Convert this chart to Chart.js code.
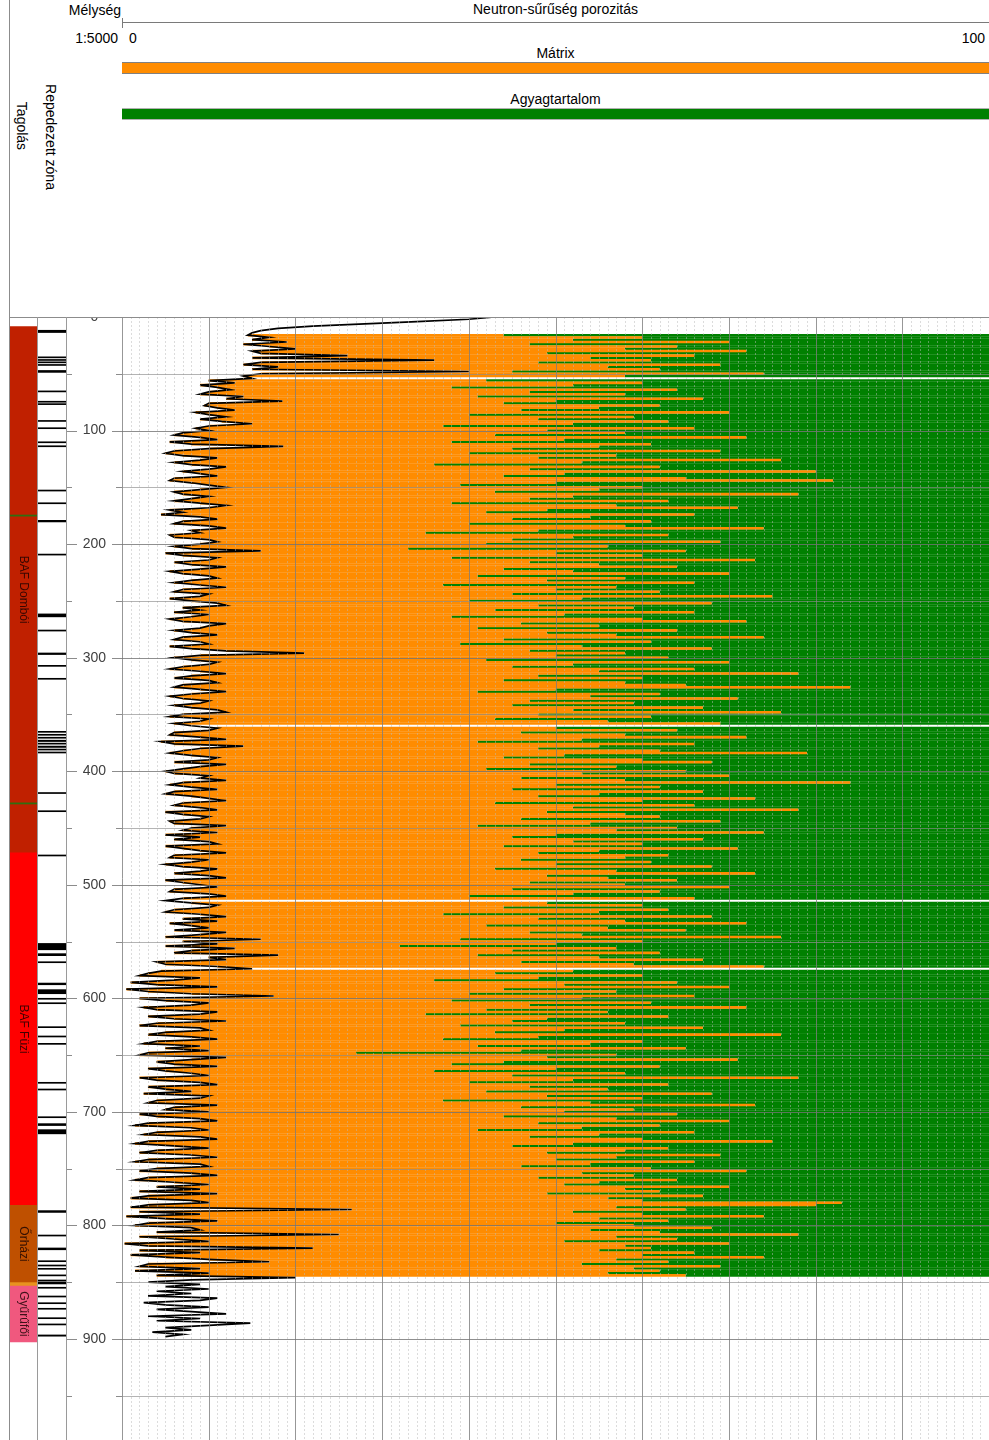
<!DOCTYPE html>
<html><head><meta charset="utf-8">
<script src="https://cdn.jsdelivr.net/npm/chart.js@4.4.1/dist/chart.umd.min.js"></script>
<style>
html,body{margin:0;padding:0;background:#fff;}
#wrap{position:relative;width:989px;height:1440px;overflow:hidden;font-family:"Liberation Sans",Arial,sans-serif;color:#000;}
.t{position:absolute;font-size:14px;line-height:14px;white-space:nowrap;}
.c{left:122px;width:867px;text-align:center;}
.ln{position:absolute;background:#8c8c8c;z-index:3;}
canvas{position:absolute;}
.rot{position:absolute;font-size:14px;line-height:14px;white-space:nowrap;transform:translate(-50%,-50%) rotate(90deg);}
</style></head><body>
<div id="wrap">
  <div class="t" style="right:868px;top:3px">Mélység</div>
  <div class="t" style="right:871px;top:31px">1:5000</div>
  <div class="t c" style="top:2px">Neutron-sűrűség porozitás</div>
  <div class="ln" style="left:122px;top:22px;width:867px;height:1px;background:#7a7a7a"></div>
  <div class="ln" style="left:122px;top:18px;width:1px;height:10px;background:#7a7a7a"></div>
  <div class="t" style="left:129px;top:31px">0</div>
  <div class="t" style="right:4px;top:31px">100</div>
  <div class="t c" style="top:46px">Mátrix</div>
  <div style="position:absolute;left:122px;top:62px;width:867px;height:10px;background:#FF8C00;border-top:1px solid #808080;border-bottom:1px solid #808080"></div>
  <div class="t c" style="top:92px">Agyagtartalom</div>
  <div style="position:absolute;left:122px;top:108px;width:867px;height:10px;background:#008000;border-top:1px solid #b0b0b0;border-bottom:1px solid #b0b0b0"></div>
  <div class="rot" style="left:22px;top:126px">Tagolás</div>
  <div class="rot" style="left:51px;top:137px">Repedezett zóna</div>

  <div class="ln" style="left:9px;top:0;width:1px;height:1440px"></div>
  <div class="ln" style="left:9px;top:317px;width:980px;height:1px"></div>
  <div class="ln" style="left:37px;top:317px;width:1px;height:1123px;background:#9a9a9a"></div>
  <div class="ln" style="left:66px;top:317px;width:1px;height:1123px;background:#9a9a9a"></div>

  <canvas id="units" width="27" height="1123" style="left:10px;top:318px"></canvas>
  <canvas id="frac" width="28" height="1123" style="left:38px;top:318px"></canvas>
  <canvas id="main" width="923" height="1123" style="left:66px;top:317px"></canvas>
</div>
<script>
// ---------------- DATA ----------------
const SAMPLE_STEP = 2; // metres between samples
// Neutron-density porosity (%), depth 0..898 m every 2 m
const phi = [
 43,40,34,28,22,18,16,15,14.5,17,
 15,19,14,17,20,15,16,26,15,36,
 16,14,18,15,40,16,14,15,10,13,
 9,11,12.5,10,9,14,12,18.5,10,9.5,
 11,13,8.5,10,12,9,11.5,15,10,8.5,
 10,7,6,9,11,5.5,8,18.6,10,6,
 5,7,11,9,6,8,12,10,7,9,
 11,6,5.5,8,10,12,9,6,7,10,
 8,6,9,12,10,5.5,7,4.5,9,11,
 7,6,10,12,8,9,5.5,6,10,11,
 9,6,8,16,5,7,11,10,6,8,
 12,9,5.5,7,10,11,8,6,9,12,
 7,6,10,9,5.5,8,11,12,7,9,
 6,10,8,5.5,7,12,10,9,6,8,
 11,7,6,9,10,5.5,8,12,21,9,
 6,8,11,10,7,5.5,9,12,8,6,
 10,11,7,6,9,12,8,5.5,7,10,
 9,6,8,11,12,7,5.5,10,9,6,
 8,11,10,6,5.5,9,12,4.5,6,14,
 9,7,5.5,8,11,10,6,12,9,7,
 5,6,10,9,12,7,5.5,8,11,6,
 5,8,10,12,7,6,9,11,5,7,
 10,9,5.5,6,12,8,7,11,5,9,
 6,10,11,5,7,9,12,6,5.5,10,
 8,5,7,11,9,6,10,12,5,7,
 9,11,6,5.5,10,12,7,5,8,11,
 10,6,5,9,12,7,11,5.5,8,10,
 6,12,9,5,16,7,11,5,13,8,
 6,18,10,12,4,5,11,15,4.5,3,
 2,9,6,1,4,11,0.5,3,8,17.5,
 2,5,10,8,2.5,4,11,9,3,6,
 12,4,2,9,10,5,3,8,11,4,
 2.5,9,5,10,3,2,12,8,4,6,
 11,3,5,8,10,2,4,9,11,3,
 5,8,2.5,10,9,4,3,11,6,5,
 10,2,4,9,11,3,1.5,8,10,4,
 2.5,9,11,3,1.5,6,10,4,2,8,
 11,3,1.5,9,10,4,2,8,11,3,
 1.5,6,10,4,9,2,11,3,1,8,
 10,3,1,26.5,2,9,0.5,5,11,3,
 1.5,8,9,4,25,2,6,10,0.3,3,
 22,2,9,1,5,10,17,3,2,9,
 1.5,10,4,20,8,3,9,5,10,4,
 8,3,11,9,2.5,5,10,4,8,12,
 3,9,4,14.8,10,5,8,3.5,7,5
];
// Boundary matrix / clay (%): clay (Agyagtartalom) fills from here to 100, same depth grid
const greenTop = [
 null,null,null,null,null,null,null,null,44,60,
 52,70,47,64,58,72,49,66,54,61,
 48,69,56,62,45,74,58,null,42,60,
 52,38,64,47,58,41,67,50,44,62,
 55,46,70,40,59,48,63,52,37,66,
 49,58,43,72,51,38,61,55,45,69,
 40,57,48,76,53,36,62,47,80,51,
 44,65,82,50,39,60,55,43,78,52,
 47,63,38,57,71,49,42,66,54,45,
 61,40,58,74,48,35,63,52,45,69,
 42,56,33,65,50,60,38,73,47,55,
 64,44,52,70,41,58,49,66,37,57,
 50,62,45,75,53,40,68,48,59,43,
 66,51,38,60,72,46,55,41,64,49,
 57,74,44,61,39,53,68,47,58,50,
 63,42,70,52,45,66,55,78,48,60,
 44,58,65,84,50,41,62,54,71,47,
 59,45,67,52,76,48,61,43,56,69,
 null,50,64,46,58,72,53,41,66,55,
 48,62,79,51,44,60,68,47,57,42,
 65,53,70,46,58,84,50,62,45,67,
 55,48,73,60,43,66,52,78,49,58,
 62,46,69,54,41,64,57,74,50,45,
 67,52,60,44,71,55,48,63,58,46,
 61,50,68,43,57,73,49,56,64,47,
 58,70,45,62,52,40,66,null,49,60,
 44,63,55,37,68,48,58,72,42,56,
 65,47,53,76,39,60,50,32,57,45,
 62,41,55,67,46,59,74,null,52,43,
 60,48,36,64,51,70,44,57,40,66,
 53,38,61,47,72,42,56,35,63,49,
 45,58,39,67,51,43,76,48,37,60,
 54,41,65,46,27,57,49,71,44,38,
 62,50,36,58,45,78,52,40,63,47,
 56,42,68,49,60,37,54,73,46,59,
 51,64,44,57,70,48,62,53,41,66,
 55,47,60,75,52,45,63,58,49,69,
 57,50,66,54,46,61,72,53,59,48,
 64,55,51,70,58,62,49,67,56,60,
 83,80,57,65,52,60,74,55,63,50,
 59,68,54,62,78,57,64,51,70,58,
 61,55,66,60,74,57,63,53,69,59,
 62,56,65,null,null,null,null,null,null,null,
 null,null,null,null,null,null,null,null,null,null,
 null,null,null,null,null,null,null,null,null,null
];
// depth axis
const depthGrid   = [0,50,100,150,200,250,300,350,400,450,500,550,600,650,700,750,800,850,900,950];
const depthLabels = ['0','','100','','200','','300','','400','','500','','600','','700','','800','','900',''];
const DEPTH_MAX = 989;
// Tagolás (stratigraphic units), depths in m
const unitNames   = ['BAF Dombói','BAF Füzi','Őrházi','','Gyűrűfői'];
const unitTops    = [7.5, 471, 781.5, 849.5, 852.5];
const unitBottoms = [471, 781.5, 849.5, 852.5, 901.7];
const unitMarks   = [174, 427.5];   // thin sub-boundaries inside BAF Dombói
// Repedezett zóna (fractured intervals, top/bottom m)
const fracTops    = [10.8,34.2,36.5,38.6,40.9,46.2,64.2,73.3,75.4,90.2,96.6,109,112.5,151.5,162.7,178.2,207.9,260.6,274.8,295,305.9,317.3,364,366.6,369.2,371.8,374.4,377,379.6,382.2,417.9,433.9,472.9,550.8,559.8,566.9,585.7,591.5,599.1,603,624.1,632.3,638.8,673.1,679,703.4,709.5,714.8,786.1,807.6,819,830.2,834,836.9,842.7,847.2,849,853.6,861.3,867.2,872.1,880.4,885.9,895.6];
const fracBottoms = [12.8,35.1,37.4,39.5,41.8,47.9,65.1,74.2,76.3,91.1,97.5,109.9,113.4,152.4,163.6,179.6,208.8,263.2,275.7,296.4,306.8,318.2,364.9,367.5,370.1,373,375.3,378.2,380.5,383.1,418.8,434.8,473.8,556.4,561.6,567.8,587.2,595.1,600,603.9,625,633.2,639.7,674,679.9,704.3,711.2,718.5,787.7,808.5,820.6,831.1,834.9,837.8,843.6,848.1,850.7,854.5,862.2,868.1,873,881.3,886.8,896.7];

// ---------------- STYLE ----------------
const FONT = '"Liberation Sans", Arial, sans-serif';
Chart.defaults.font.family = FONT;
const unitColors = ['#C02000','#FF0000','#BF5000','#E8921E','#F0587E'];
const ORANGE = '#FF8C00', GREEN = '#008000';

const base = {
  responsive:false, animation:false, events:[],
  layout:{padding:0},
  plugins:{legend:{display:false}, tooltip:{enabled:false}}
};

// ---------------- Tagolás track ----------------
const unitLabelPlugin = {
  id:'unitLabels',
  afterDatasetsDraw(chart){
    const {ctx, chartArea:a, scales:{y}} = chart;
    ctx.save();
    ctx.fillStyle = 'rgba(20,0,0,0.8)';
    ctx.font = '12px ' + FONT;
    ctx.textAlign = 'center'; ctx.textBaseline = 'middle';
    unitNames.forEach((n,i) => {
      if (!n) return;
      const cy = y.getPixelForValue((unitTops[i] + unitBottoms[i]) / 2);
      ctx.save(); ctx.translate((a.left + a.right) / 2, cy); ctx.rotate(Math.PI / 2);
      ctx.fillText(n, 0, 0); ctx.restore();
    });
    ctx.restore();
  }
};
new Chart(document.getElementById('units'), {
  type:'bar',
  data:{datasets:[
    {data: unitMarks.map(d => ({x:0.5, y:[d - 0.5, d + 0.5]})), backgroundColor:'#2f6f10', barThickness:27, borderWidth:0},
    {data: unitTops.map((t,i) => ({x:0.5, y:[t, unitBottoms[i]]})), backgroundColor: unitColors, barThickness:27, borderWidth:0}
  ]},
  options:Object.assign({}, base, {
    scales:{
      x:{type:'linear', min:0, max:1, display:false, offset:false, stacked:false},
      y:{type:'linear', reverse:true, min:0, max:DEPTH_MAX, display:false}
    },
    datasets:{bar:{grouped:false}}
  }),
  plugins:[unitLabelPlugin]
});

// ---------------- Repedezett zóna track ----------------
new Chart(document.getElementById('frac'), {
  type:'bar',
  data:{datasets:[
    {data: fracTops.map((t,i) => ({x:0.5, y:[t, fracBottoms[i]]})), backgroundColor:'#000', barThickness:28, borderWidth:0}
  ]},
  options:Object.assign({}, base, {
    scales:{
      x:{type:'linear', min:0, max:1, display:false, offset:false},
      y:{type:'linear', reverse:true, min:0, max:DEPTH_MAX, display:false}
    }
  })
});

// ---------------- Main track ----------------
const depths = phi.map((_, i) => i * SAMPLE_STEP);
const curveData = depths.map((d, i) => ({y:d, x:phi[i]}));
const matrixData = [], clayData = [];
depths.forEach((d, i) => {
  if (greenTop[i] == null) return;
  matrixData.push({y:d, x:[phi[i], greenTop[i]]});
  clayData.push({y:d, x:[greenTop[i], 100]});
});

const gridPlugin = {
  id:'gridOnTop',
  afterDatasetsDraw(chart){
    const {ctx, chartArea:a, scales:{x, y}} = chart;
    ctx.save();
    ctx.lineWidth = 1;
    // minor vertical dotted lines every 1 %
    ctx.setLineDash([2,2]);
    ctx.strokeStyle = 'rgba(185,185,185,0.5)';
    for (let v = 1; v < 100; v++) {
      if (v % 10 === 0) continue;
      const px = Math.round(x.getPixelForValue(v)) + 0.5;
      ctx.beginPath(); ctx.moveTo(px, a.top); ctx.lineTo(px, a.bottom); ctx.stroke();
    }
    ctx.setLineDash([]);
    ctx.strokeStyle = 'rgba(125,125,125,0.8)';
    for (let v = 0; v < 100; v += 10) {
      const px = Math.round(x.getPixelForValue(v)) + 0.5;
      ctx.beginPath(); ctx.moveTo(px, a.top); ctx.lineTo(px, a.bottom); ctx.stroke();
    }
    // horizontal lines + depth-track tick marks
    depthGrid.forEach(d => {
      if (d === 0) return;
      const py = Math.round(y.getPixelForValue(d)) + 0.5;
      const major = d % 100 === 0;
      ctx.strokeStyle = major ? 'rgba(115,115,115,0.8)' : 'rgba(140,140,140,0.65)';
      ctx.beginPath(); ctx.moveTo(a.left, py); ctx.lineTo(a.right, py); ctx.stroke();
      ctx.strokeStyle = '#8c8c8c';
      const l1 = major ? 11 : 6, l2 = major ? 10 : 6;
      ctx.beginPath();
      ctx.moveTo(y.left, py); ctx.lineTo(y.left + l1, py);
      ctx.moveTo(y.right - l2, py); ctx.lineTo(y.right, py);
      ctx.stroke();
    });
    ctx.restore();
  }
};

new Chart(document.getElementById('main'), {
  type:'bar',
  data:{datasets:[
    {type:'line', label:'Neutron-sűrűség porozitás', data:curveData, borderColor:'#000', borderWidth:1.7,
     pointRadius:0, stepped:false, fill:false, tension:0},
    {label:'Mátrix', data:matrixData, backgroundColor:ORANGE, grouped:false, barPercentage:1, categoryPercentage:1.12, borderWidth:0},
    {label:'Agyagtartalom', data:clayData, backgroundColor:GREEN, grouped:false, barPercentage:1, categoryPercentage:1.12, borderWidth:0}
  ]},
  options:Object.assign({}, base, {
    indexAxis:'y',
    scales:{
      x:{type:'linear', min:0, max:100, display:false},
      y:{type:'linear', reverse:true, min:0, max:DEPTH_MAX, offset:false,
         afterBuildTicks: s => { s.ticks = depthGrid.map(v => ({value:v})); },
         afterFit: s => { s.width = 56; s.paddingTop = 0; s.paddingBottom = 0; },
         grid:{display:false, drawTicks:false},
         border:{display:false},
         ticks:{
           autoSkip:false, maxRotation:0, crossAlign:'center', padding:16,
           color:'#404040', font:{size:14, family:FONT},
           callback: v => { const i = depthGrid.indexOf(v); return i >= 0 ? depthLabels[i] : ''; }
         }
      }
    }
  }),
  plugins:[gridPlugin]
});
</script>
</body></html>
